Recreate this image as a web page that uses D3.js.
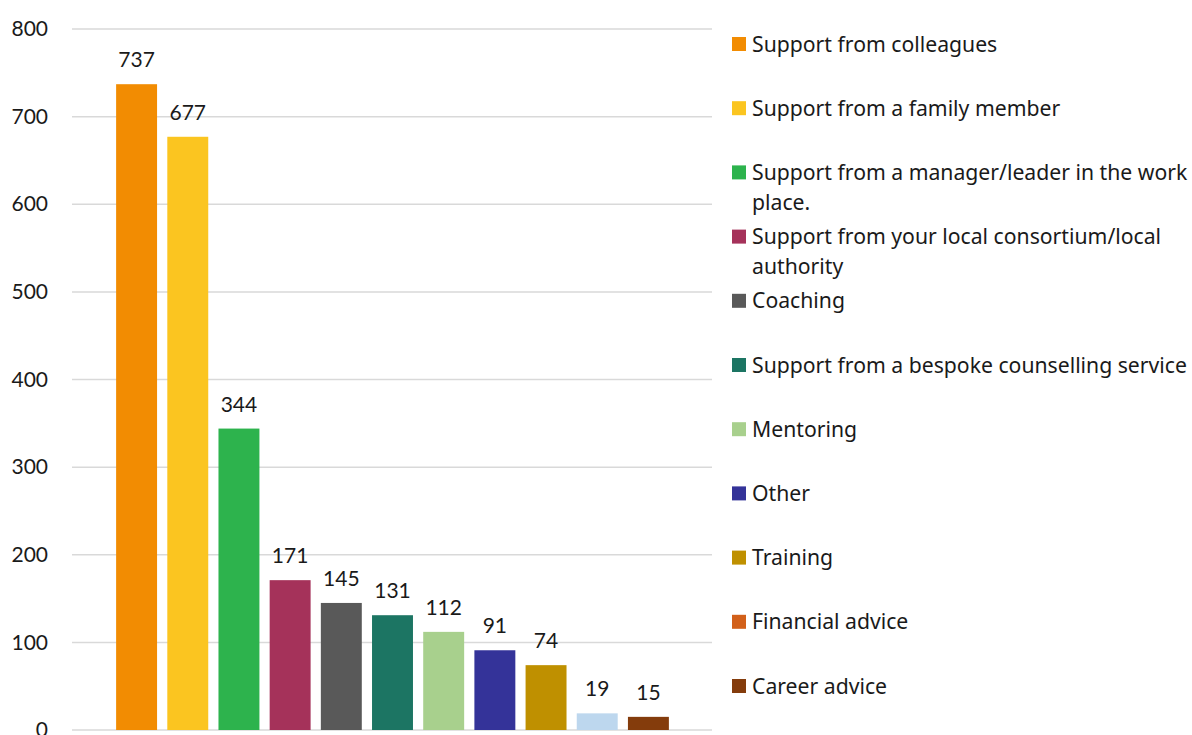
<!DOCTYPE html>
<html><head><meta charset="utf-8">
<script src="https://cdn.jsdelivr.net/npm/d3@7"></script>
<style>body{margin:0;background:#fff}svg{display:block}</style>
</head><body>
<svg id="c" width="1192" height="735"></svg>
<script>
const categories = ["Support from colleagues","Support from a family member","Support from a manager/leader in the work place.","Support from your local consortium/local authority","Coaching","Support from a bespoke counselling service","Mentoring","Other","Training","Financial advice","Career advice"];
const values = [737,677,344,171,145,131,112,91,74,19,15];
const barColors = ["#F28C02","#FBC520","#2DB34D","#A5325A","#595959","#1C7563","#A8D08D","#343399","#BF9000","#BDD7EE","#843C0C"];
const legendColors = ["#F28C02","#FBC520","#2DB34D","#A5325A","#595959","#1C7563","#A8D08D","#343399","#BF9000","#D2601A","#843C0C"];
const legendLines = [["Support from colleagues"],["Support from a family member"],["Support from a manager/leader in the work","place."],["Support from your local consortium/local","authority"],["Coaching"],["Support from a bespoke counselling service"],["Mentoring"],["Other"],["Training"],["Financial advice"],["Career advice"]];
const yTicks = [0,100,200,300,400,500,600,700,800];

const FONT = "Lato, 'Noto Sans', sans-serif";
const LFONT = "'Noto Sans', sans-serif";
const svg = d3.select("#c");
const y = d3.scaleLinear().domain([0,800]).range([730,29]);
const x = d3.scaleBand().domain(categories).range([111,674]).paddingInner(0.2).paddingOuter(0.1);

const grid = svg.append("g");
grid.selectAll("line").data(yTicks).join("line")
  .attr("x1",72).attr("x2",712)
  .attr("y1",d=>y(d)).attr("y2",d=>y(d))
  .attr("stroke","#d9d9d9").attr("stroke-width",1.5);

const yAxis = d3.axisLeft(y).tickValues(yTicks).tickSize(0).tickPadding(0);
const ya = svg.append("g").attr("transform","translate(48,0)").call(yAxis);
ya.select(".domain").remove();
ya.selectAll("text").attr("font-family",FONT).attr("font-size",21).attr("fill","#1a1a1a");

svg.append("g").selectAll("rect").data(values).join("rect")
  .attr("x",(d,i)=>x(categories[i]))
  .attr("width",x.bandwidth())
  .attr("y",d=>y(d))
  .attr("height",d=>y(0)-y(d))
  .attr("fill",(d,i)=>barColors[i]);

svg.append("g").selectAll("text").data(values).join("text")
  .attr("x",(d,i)=>x(categories[i])+x.bandwidth()/2)
  .attr("y",d=>y(d)-17)
  .attr("text-anchor","middle")
  .attr("font-family",FONT).attr("font-size",21).attr("fill","#1a1a1a")
  .text(d=>d);

const lg = svg.append("g");
legendLines.forEach((lines,i)=>{
  const cy = 44 + i*64.2;
  lg.append("rect").attr("x",732).attr("y",cy-7).attr("width",14).attr("height",14).attr("fill",legendColors[i]);
  lines.forEach((t,j)=>{
    lg.append("text").attr("x",752).attr("y",cy+7.5+j*30)
      .attr("font-family",LFONT).attr("font-size",21.2).attr("fill","#1a1a1a").text(t);
  });
});
</script>
</body></html>
